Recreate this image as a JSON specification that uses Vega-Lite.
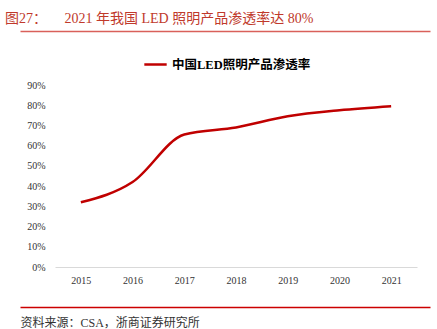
{
  "$schema": "https://vega.github.io/schema/vega-lite/v6.json",
  "width": 362,
  "height": 182,
  "autosize": "none",
  "padding": {"left": 55, "right": 20, "top": 85, "bottom": 62},
  "background": "white",
  "config": {
    "view": {"stroke": null},
    "font": "Liberation Serif, Noto Sans CJK SC"
  },
  "title": {
    "text": "图27：\u3000\u00a0\u00a0\u00a02021 年我国 LED 照明产品渗透率达 80%",
    "anchor": "start",
    "frame": "group",
    "color": "#C0392B",
    "fontSize": 14,
    "fontWeight": "normal",
    "font": "Liberation Serif, Noto Sans CJK SC",
    "dx": -50,
    "offset": 5
  },
  "data": {
    "values": [
      {"year": "2015", "rate": 0.32, "series": "中国LED照明产品渗透率"},
      {"year": "2016", "rate": 0.42, "series": "中国LED照明产品渗透率"},
      {"year": "2017", "rate": 0.655, "series": "中国LED照明产品渗透率"},
      {"year": "2018", "rate": 0.69, "series": "中国LED照明产品渗透率"},
      {"year": "2019", "rate": 0.745, "series": "中国LED照明产品渗透率"},
      {"year": "2020", "rate": 0.775, "series": "中国LED照明产品渗透率"},
      {"year": "2021", "rate": 0.795, "series": "中国LED照明产品渗透率"}
    ]
  },
  "resolve": {"scale": {"x": "independent"}, "axis": {"x": "independent", "y": "independent"}},
  "layer": [
    {
      "mark": {"type": "line", "interpolate": "monotone", "strokeWidth": 2.5},
      "encoding": {
        "x": {
          "field": "year", "type": "ordinal",
          "scale": {"type": "point", "padding": 0.5},
          "axis": {
            "orient": "bottom", "labelAngle": 0, "ticks": false,
            "domainColor": "#d9d9d9", "labelFontSize": 10, "labelColor": "#333333",
            "labelPadding": 8, "grid": false,
            "title": "资料来源：CSA，浙商证券研究所",
            "titleAnchor": "start", "titleAlign": "left", "titleX": -35, "titleY": 55,
            "titleBaseline": "middle", "titleFontSize": 12, "titleFontWeight": "normal",
            "titleColor": "#333333"
          }
        },
        "y": {
          "field": "rate", "type": "quantitative",
          "scale": {"domain": [0, 0.9]},
          "axis": {
            "orient": "left",
            "format": ".0%", "values": [0, 0.1, 0.2, 0.3, 0.4, 0.5, 0.6, 0.7, 0.8, 0.9],
            "domain": false, "ticks": false, "grid": false, "title": null,
            "labelFontSize": 10, "labelColor": "#333333", "labelPadding": 10
          }
        },
        "color": {
          "field": "series", "type": "nominal",
          "scale": {"range": ["#C00000"]},
          "legend": {
            "orient": "none", "legendX": 88, "legendY": -33, "title": null,
            "symbolType": "stroke", "symbolStrokeWidth": 2.5, "symbolSize": 500,
            "labelFontSize": 12.5, "labelFontWeight": "bold", "labelColor": "#000000",
            "labelOffset": 4,
            "labelFont": "Liberation Serif, Noto Sans CJK SC"
          }
        }
      }
    },
    {
      "mark": {"type": "line", "opacity": 0},
      "encoding": {
        "x": {
          "field": "year", "type": "ordinal",
          "scale": {"type": "point", "range": [-35, 375]},
          "axis": {
            "orient": "top", "offset": 54, "labels": false, "ticks": false, "title": null,
            "domainColor": "#D9605A", "domainWidth": 1.5, "grid": false
          }
        },
        "y": {"field": "rate", "type": "quantitative", "axis": null}
      }
    },
    {
      "mark": {"type": "line", "opacity": 0},
      "encoding": {
        "x": {
          "field": "year", "type": "ordinal",
          "scale": {"type": "point", "range": [-35, 375]},
          "axis": {
            "orient": "bottom", "offset": 40, "labels": false, "ticks": false, "title": null,
            "domainColor": "#CC0000", "domainWidth": 1.5, "grid": false
          }
        },
        "y": {"field": "rate", "type": "quantitative", "axis": null}
      }
    }
  ]
}
